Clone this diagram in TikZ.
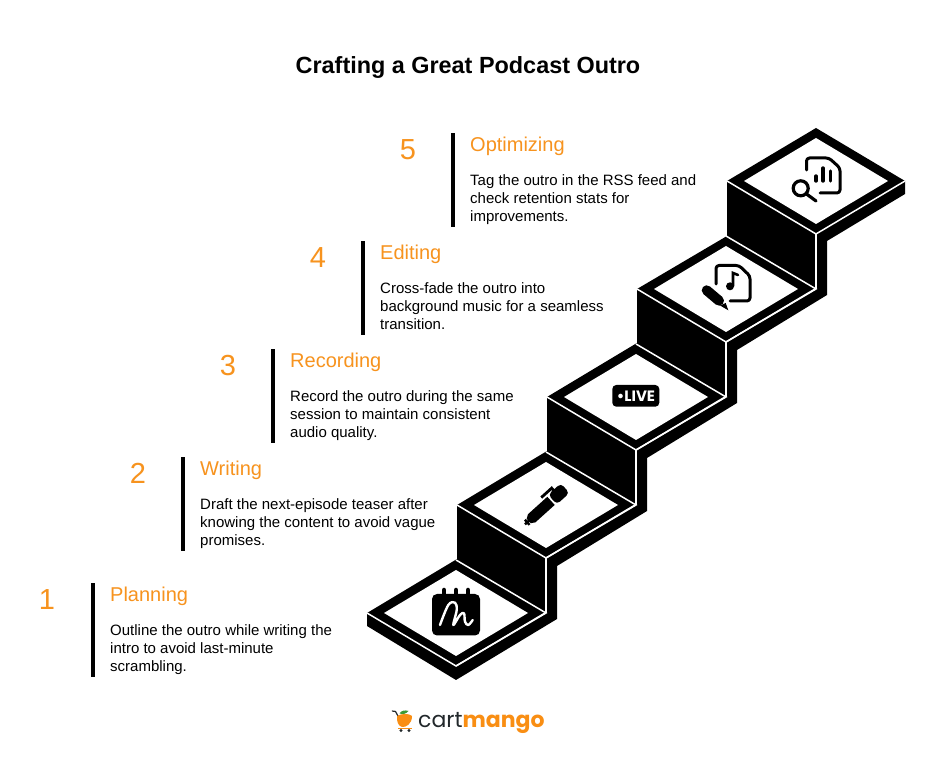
\documentclass[tikz,border=0pt]{standalone}
\usepackage{fontspec}
\setmainfont{Liberation Sans}
\newfontfamily\logofont{Poppins}
\usetikzlibrary{positioning}
\definecolor{headorange}{HTML}{F7931E}
\definecolor{logoorange}{HTML}{F98E13}
\definecolor{logodark}{HTML}{22282B}
\definecolor{logoleaf}{HTML}{3C9A35}
\tikzset{step head/.style={anchor=base west,inner sep=0pt,text=headorange,font=\fontsize{20}{22}\selectfont},}
\tikzset{step num/.style={anchor=base,inner sep=0pt,text=headorange,font=\fontsize{29}{32}\selectfont},}
\tikzset{step body/.style={inner sep=0pt,align=left,font=\fontsize{15}{18}\selectfont},}
\tikzset{step bar/.style={line width=3.5pt},}
\tikzset{white line/.style={white,line width=1.5pt,line join=miter},}
\tikzset{icon line/.style={line width=3pt,line cap=round,line join=round,rounded corners=3pt},}

\begin{document}
\begin{tikzpicture}[x=1pt,y=1pt]
  \useasboundingbox (0,0) rectangle (936,765);
  \fill[white] (0,0) rectangle (936,765);

  \node[anchor=base,inner sep=0pt,font=\fontsize{23.4}{28}\selectfont\bfseries] (title) at (468,691) {Crafting a Great Podcast Outro};

  \coordinate (bar1) at (93,181.7);
  \coordinate (bar2) at (183,307.7);
  \coordinate (bar3) at (273,415.7);
  \coordinate (bar4) at (363,523.7);
  \coordinate (bar5) at (453,631.7);
  \foreach \i in {1,...,5}
    \draw[step bar] (bar\i) -- ++(0,-93.5);

  \node[step num] (num1) at (47,155.7) {1};
  \node[step num] (num2) at (138,281.7) {2};
  \node[step num] (num3) at (228,389.7) {3};
  \node[step num] (num4) at (318,497.7) {4};
  \node[step num] (num5) at (408,605.7) {5};

  \node[step head] (head1) at (110,163.3) {Planning};
  \node[step head] (head2) at (200,289.3) {Writing};
  \node[step head] (head3) at (290,397.3) {Recording};
  \node[step head] (head4) at (380,505.3) {Editing};
  \node[step head] (head5) at (470,613.3) {Optimizing};

  \node[step body] (body1) [below right = 18pt and 0pt of head1.south west] {Outline the outro while writing the\\intro to avoid last-minute\\scrambling.};
  \node[step body] (body2) [below right = 18pt and 0pt of head2.south west] {Draft the next-episode teaser after\\knowing the content to avoid vague\\promises.};
  \node[step body] (body3) [below right = 18pt and 0pt of head3.south west] {Record the outro during the same\\session to maintain consistent\\audio quality.};
  \node[step body] (body4) [below right = 18pt and 0pt of head4.south west] {Cross-fade the outro into\\background music for a seamless\\transition.};
  \node[step body] (body5) [below right = 18pt and 0pt of head5.south west] {Tag the outro in the RSS feed and\\check retention stats for\\improvements.};

  \fill (367,152) -- (367,139) -- (456,85) -- (557,146) -- (557,199) -- (647,254) -- (647,307)
    -- (737,362) -- (737,415) -- (827,470) -- (827,524) -- (905,571) -- (905,584) -- (816,637)
    -- (727,584) -- (727,529) -- (637,476) -- (637,422) -- (547,368) -- (547,314) -- (457,260)
    -- (457,206) -- cycle;

  \foreach \i in {0,...,4}{
    \begin{scope}[shift={(456+90*\i,152+108*\i)}]
      \fill[white] (-72,0) -- (0,43) -- (72,0) -- (0,-43) -- cycle;
      \draw[white line] (-89,0) -- (0,-53) -- (89,0);
    \end{scope}
  }
  \foreach \i in {0,...,3}{
    \begin{scope}[shift={(456+90*\i,152+108*\i)}]
      \draw[white line] (0,53) -- (90,0) -- (0,-53);
      \draw[white line] (90,55) -- (90,0);
    \end{scope}
  }

  \begin{scope}[shift={(0,765)},y=-1pt]
    % calendar
    \fill[rounded corners=5pt] (432,594) rectangle (480,635.5);
    \foreach \x in {444,456,468}
      \draw[line width=4.5pt,line cap=round] (\x,590) -- (\x,597);
    \draw[white,line width=2.4pt,line cap=round,line join=round] plot[smooth,tension=0.6] coordinates {(440,625) (448.3,605) (455,602.7) (456.7,610) (453.3,625) (460,615) (464,613.3) (465,621.7) (468.3,625) (472.7,620)};

    % live
    \fill[rounded corners=4pt] (612.3,385) rectangle (659.3,406.7);
    \node[inner sep=0pt,text=white,font=\logofont\fontsize{15}{16}\selectfont\bfseries] (live) at (636,396) {•LIVE};

    % music file
    \draw[icon line] (716,284) -- (716,265.5) -- (739,265.5) -- (750,276) -- (750,301) -- (730,301);
    \fill (730,286.3) circle (4pt);
    \draw[line width=2.6pt,line cap=round] (733,286) -- (733,273) -- (738,275);
    \draw[line width=10pt,line cap=round] (706.7,290.3) -- (719,300.7);
    \fill (720,305.5) -- (725.7,303) -- (728.3,310.3) -- cycle;

    % chart file
    \draw[icon line] (806.5,170) -- (806.5,158) -- (829,158) -- (840,168) -- (840,193) -- (820,193);
    \draw[line width=3.4pt,line cap=round] (816,176) -- (816,181);
    \draw[line width=3.4pt,line cap=round] (823,168) -- (823,181);
    \draw[line width=3.4pt,line cap=round] (830.5,171) -- (830.5,181);
    \draw[line width=3.2pt] (800.7,188.3) circle (7.5pt);
    \draw[line width=3.2pt,line cap=round] (806.5,194) -- (816,201);

    % logo cart
    \draw[logodark,line width=1.2pt,line cap=round] (392.3,711) -- (395.5,711.5) -- (398,716);
    \fill[logoorange] (397,716) .. controls (401,713.5) and (409,713) .. (412,716) .. controls (412,724) and (406,727.5) .. (402,727) .. controls (398,726) and (396.5,721) .. (397,716) -- cycle;
    \fill[logoleaf] (399.5,713.5) .. controls (402,710) and (405,710) .. (408.5,711) .. controls (406,714) and (403,714.5) .. (399.5,713.5) -- cycle;
    \draw[logoorange,line width=1.4pt] (398,728.3) -- (411.5,728.3);
    \fill[logodark] (401,730.5) circle (1.6pt);
    \fill[logodark] (409,730.5) circle (1.6pt);
  \end{scope}

  % pen
  \begin{scope}[shift={(525,240.7)},rotate=42]
    \draw[line width=2.6pt] (0,0) -- (7,0);
    \draw[line width=2.4pt] (3,-3.5) -- (3,3.5);
    \fill (5,-3) -- (9,-5.5) -- (35,-5.5) -- (35,5.5) -- (9,5.5) -- (5,3) -- cycle;
    \fill[rounded corners=4pt] (37,-6.5) -- (54,-6.5) -- (54,6.5) -- (37,6.5) -- cycle;
    \draw[line width=2.8pt] (30,9) -- (44,9) -- (44,5);
  \end{scope}

  \node[anchor=base west,inner sep=0pt,text=logodark,font=\logofont\fontsize{22}{26}\selectfont] (logo) at (418,37.7) {cart\textcolor{logoorange}{\bfseries mango}};
\end{tikzpicture}
\end{document}
